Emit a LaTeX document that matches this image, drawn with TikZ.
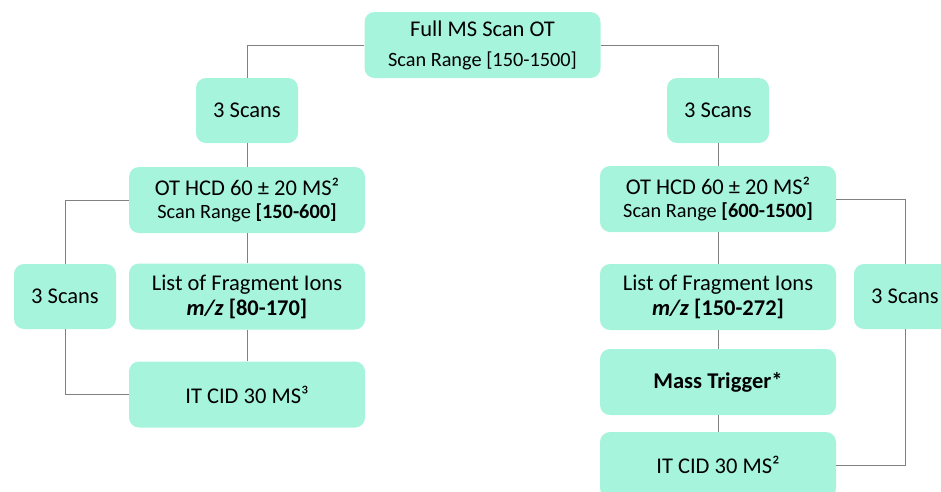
\documentclass[tikz,border=0pt]{standalone}
\usepackage{fontspec}
\setmainfont{Carlito}
\usepackage{tikz}
\usetikzlibrary{positioning}
\definecolor{mint}{RGB}{166,244,220}
\definecolor{wire}{RGB}{128,128,128}
\tikzset{
	stepbox/.style={draw=none, fill=mint, rounded corners=10pt, align=center, inner sep=0pt,
		minimum width=236pt, minimum height=66pt, font=\fontsize{22.5}{25}\selectfont},
	scanbox/.style={stepbox, minimum width=102pt, minimum height=65pt},
	link/.style={draw=wire, line width=0.9pt}
}
\newcommand{\rangesize}{\fontsize{20.3}{25}\selectfont}

\begin{document}
\begin{tikzpicture}[x=1pt, y=-1pt]
			\useasboundingbox (0,0) rectangle (941,491);
			% top
			\node[stepbox, font=\fontsize{22.5}{30}\selectfont] (full) at (482.5,45) {Full MS Scan OT\\{\rangesize Scan Range [150-1500]}};
			\node[scanbox] (scanL) at (247,110.5) {3 Scans};
			\node[scanbox] (scanR) at (718,110.5) {3 Scans};
			% left branch
			\node[stepbox, font=\fontsize{22.5}{23.5}\selectfont] (hcdL) at (247,200) {OT HCD 60 ± 20 MS²\\{\rangesize Scan Range \textbf{[150-600]}}};
			\node[stepbox] (fragL) at (247,296.5) {List of Fragment Ions\\\textbf{\textit{m/z} [80-170]}};
			\node[stepbox] (itL) at (247,394.5) {IT CID 30 MS³};
			\node[scanbox] (sideL) at (65,296.5) {3 Scans};
			% right branch
			\node[stepbox, font=\fontsize{22.5}{23.5}\selectfont] (hcdR) at (718,199) {OT HCD 60 ± 20 MS²\\{\rangesize Scan Range \textbf{[600-1500]}}};
			\node[stepbox] (fragR) at (718,297) {List of Fragment Ions\\\textbf{\textit{m/z} [150-272]}};
			\node[stepbox] (trig) at (718,382) {\textbf{Mass Trigger*}};
			\node[stepbox] (itR) at (718,465) {IT CID 30 MS²};
			\node[scanbox] (sideR) at (905,296.5) {3 Scans};
			% connectors
			\draw[link] (full.west) -| (scanL.north);
			\draw[link] (full.east) -| (scanR.north);
			\draw[link] (scanL.south) -- (hcdL.north);
			\draw[link] (scanR.south) -- (hcdR.north);
			\draw[link] (hcdL.south) -- (fragL.north);
			\draw[link] (fragL.south) -- (itL.north);
			\draw[link] (hcdL.west) -| (sideL.north);
			\draw[link] (sideL.south) |- (itL.west);
			\draw[link] (hcdR.south) -- (fragR.north);
			\draw[link] (fragR.south) -- (trig.north);
			\draw[link] (trig.south) -- (itR.north);
			\draw[link] (hcdR.east) -| (sideR.north);
			\draw[link] (sideR.south) |- (itR.east);
		\end{tikzpicture}
\end{document}
